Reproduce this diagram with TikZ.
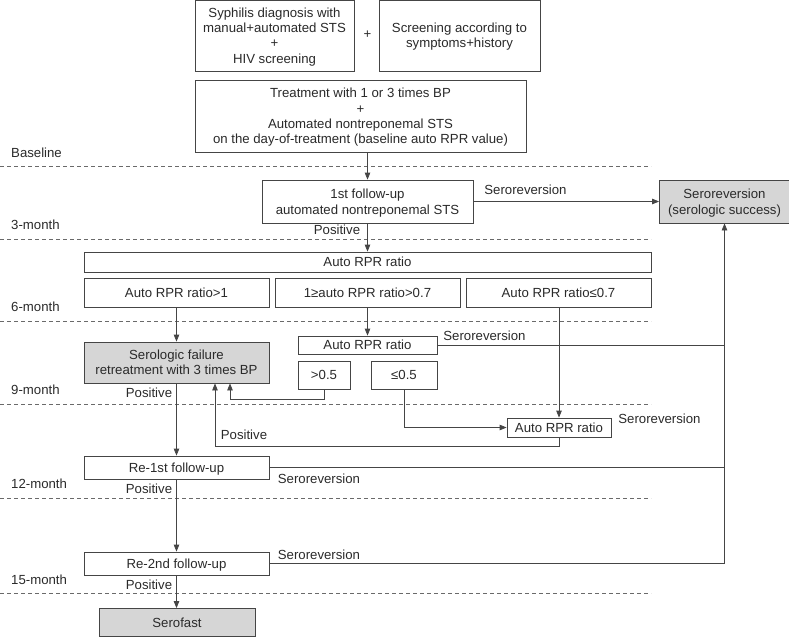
\documentclass[tikz,border=0pt]{standalone}
\usepackage{fontspec}
\setmainfont{Liberation Sans}
\usetikzlibrary{arrows.meta}
\definecolor{ln}{HTML}{454545}
\definecolor{txt}{HTML}{2A2A2A}
\definecolor{boxgray}{HTML}{D6D6D6}
\definecolor{dashgray}{HTML}{6A6A6A}
\begin{document}
\begin{tikzpicture}[x=1pt,y=-1pt,
  every node/.style={font=\fontsize{13.2}{15.2}\selectfont, text=txt},
  sz/.style 2 args={minimum width=#1pt, minimum height=#2pt},
  box/.style={draw=ln, line width=0.8pt, inner sep=0pt, align=center, fill=white, text depth=0pt},
  gbox/.style={box, fill=boxgray},
  lbl/.style={inner sep=0pt},
  conn/.style={draw=ln, line width=0.8pt},
  arr/.style={conn, -{Triangle[length=7pt,width=5.5pt]}},
  sepline/.style={draw=dashgray, line width=0.7pt, dash pattern=on 4pt off 3pt}
]
\useasboundingbox (0,0) rectangle (789,637);

% separators
\foreach \yy in {166,239,321,404,498,593}
  \draw[sepline] (0,\yy) -- (651,\yy);

% top boxes
\node[box, sz={159}{71}] (syph) at (274.5,35.5) {Syphilis diagnosis with\\manual+automated STS\\+\\HIV screening};
\node[lbl] (plus) at (367.5,35) {+};
\node[box, sz={161}{71}] (screen) at (459.5,35.5) {Screening according to\\symptoms+history};
\node[box, sz={331}{72}] (treat) at (360.5,116) {Treatment with 1 or 3 times BP\\+\\Automated nontreponemal STS\\on the day-of-treatment (baseline auto RPR value)};

% period labels
\node[lbl, anchor=west] (lb0) at (11,153) {Baseline};
\node[lbl, anchor=west] (lb3) at (11,225) {3-month};
\node[lbl, anchor=west] (lb6) at (11,307) {6-month};
\node[lbl, anchor=west] (lb9) at (11,390) {9-month};
\node[lbl, anchor=west] (lb12) at (11,484) {12-month};
\node[lbl, anchor=west] (lb15) at (11,580) {15-month};

% follow-up
\node[box, sz={211}{43}, font=\fontsize{13.2}{16.5}\selectfont] (fu1) at (367.5,201.5) {1st follow-up\\automated nontreponemal STS};
\node[gbox, sz={130}{43}, font=\fontsize{13.2}{16.5}\selectfont] (serorev) at (724.5,201.5) {Seroreversion\\(serologic success)};
\node[lbl] (s1) at (525.5,190) {Seroreversion};
\node[lbl] (p1) at (337,230) {Positive};

% ratio
\node[box, sz={567}{20}] (ratio) at (367.5,262) {Auto RPR ratio};
\node[box, sz={185}{29}] (r1) at (176.5,292.5) {Auto RPR ratio>1};
\node[box, sz={185}{29}] (r2) at (367.5,292.5) {1≥auto RPR ratio>0.7};
\node[box, sz={185}{29}] (r3) at (558.5,292.5) {Auto RPR ratio≤0.7};

\node[box, sz={139}{18}] (ratio2) at (367.5,345) {Auto RPR ratio};
\node[lbl] (s2) at (484.5,336) {Seroreversion};
\node[gbox, sz={185}{41}] (fail) at (176.5,362.5) {Serologic failure\\retreatment with 3 times BP};
\node[box, sz={52}{28}] (gt) at (324,375) {>0.5};
\node[box, sz={66}{28}] (le) at (404,375) {≤0.5};
\node[lbl] (p2) at (149,393) {Positive};

\node[box, sz={104}{19}] (ratio3) at (559,427.5) {Auto RPR ratio};
\node[lbl] (s3) at (659.5,419) {Seroreversion};
\node[lbl] (p3) at (244,435) {Positive};

\node[box, sz={185}{23}] (re1) at (176.5,467.5) {Re-1st follow-up};
\node[lbl] (s4) at (319,479) {Seroreversion};
\node[lbl] (p4) at (149,489) {Positive};

\node[box, sz={185}{23}] (re2) at (176.5,563.5) {Re-2nd follow-up};
\node[lbl] (s5) at (319,555) {Seroreversion};
\node[lbl] (p5) at (149,585) {Positive};

\node[gbox, sz={156}{28}] (serofast) at (177,622.5) {Serofast};

% connectors
\coordinate (trunk) at (724.5,563.5);
\coordinate (gtturn) at (230,399);
\coordinate (posturn) at (215,446);

\draw[arr] (fu1.north |- treat.south) -- (fu1.north);
\draw[arr] (fu1.east) -- (serorev.west);
\draw[arr] (fu1.south) -- (ratio.north);
\draw[arr] (r1.south) -- (fail.north);
\draw[arr] (r2.south) -- (ratio2.north);
\draw[conn] (ratio2.east) -- (ratio2.east -| trunk);
\draw[arr] (gt.south) |- (gtturn) -- (gtturn |- fail.south);
\draw[arr] (le.south) |- (ratio3.west);
\draw[arr] (r3.south -| ratio3.north) -- (ratio3.north);
\draw[arr] (ratio3.south) |- (posturn) -- (posturn |- fail.south);
\draw[arr] (fail.south) -- (re1.north);
\draw[conn] (re1.east) -- (re1.east -| trunk);
\draw[arr] (re1.south) -- (re2.north);
\draw[arr] (re2.east) -- (trunk) -- (serorev.south);
\draw[arr] (re2.south) -- (re2.south |- serofast.north);
\end{tikzpicture}
\end{document}
